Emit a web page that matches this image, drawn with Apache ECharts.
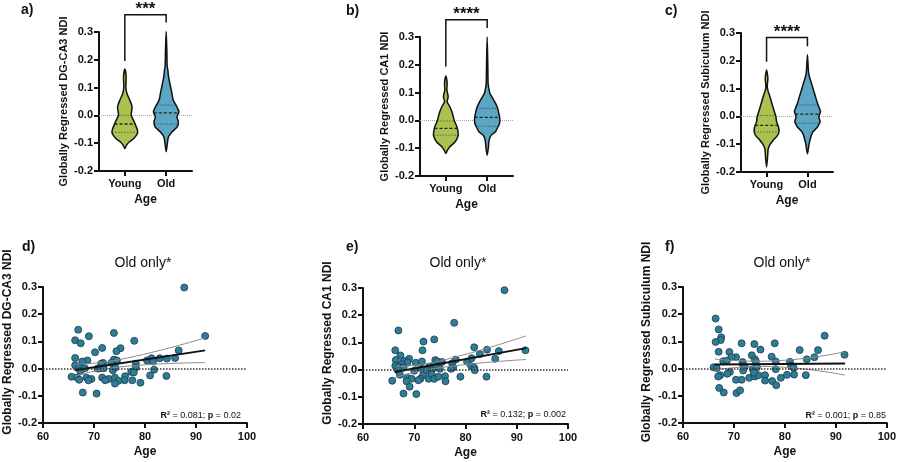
<!DOCTYPE html>
<html>
<head>
<meta charset="utf-8">
<script src="https://cdn.jsdelivr.net/npm/echarts@6/dist/echarts.min.js"></script>
<style>
  html, body { margin: 0; padding: 0; background: #fff; }
  #wrap { position: relative; width: 899px; height: 462px; }
  #wrap div.layer { position: absolute; left: 0; top: 0; width: 899px; height: 462px; }
</style>
</head>
<body>
<div id="wrap"></div>
<script>
// groups on the violin axes
const groups = ['Young', 'Old']
const groupPos = [2.5, 6.5] // positions on a 0..9 axis so the violins sit where they do in the figure

// violin outlines: [NDI value, relative half width]
const youngA = [[0.167, 0], [0.140, 0.10], [0.103, 0.08], [0.080, 0.15], [0.055, 0.38], [0.031, 0.56], [0.001, 0.49], [-0.023, 0.72], [-0.053, 0.97], [-0.065, 0.97], [-0.083, 0.69], [-0.095, 0.36], [-0.107, 0.13], [-0.119, 0]]
const oldA = [[0.302, 0], [0.236, 0.05], [0.176, 0.08], [0.164, 0.13], [0.140, 0.18], [0.116, 0.28], [0.080, 0.44], [0.055, 0.54], [0.031, 0.82], [0.013, 0.98], [-0.005, 0.83], [-0.023, 0.94], [-0.041, 0.85], [-0.059, 0.46], [-0.077, 0.18], [-0.101, 0.09], [-0.131, 0]]
const youngB = [[0.160, 0], [0.134, 0.10], [0.110, 0.08], [0.085, 0.18], [0.067, 0.10], [0.049, 0.31], [0.025, 0.51], [0.001, 0.64], [-0.023, 0.85], [-0.047, 0.95], [-0.059, 0.92], [-0.077, 0.72], [-0.095, 0.31], [-0.107, 0.13], [-0.119, 0]]
const oldB = [[0.300, 0], [0.194, 0.05], [0.134, 0.07], [0.122, 0.10], [0.098, 0.21], [0.085, 0.36], [0.073, 0.51], [0.049, 0.77], [0.025, 0.90], [0.007, 0.97], [-0.011, 0.95], [-0.029, 0.77], [-0.041, 0.64], [-0.053, 0.31], [-0.071, 0.15], [-0.095, 0.10], [-0.125, 0]]
const youngC = [[0.167, 0], [0.137, 0.10], [0.107, 0.05], [0.089, 0.13], [0.071, 0.26], [0.047, 0.41], [0.023, 0.56], [-0.001, 0.72], [-0.019, 0.77], [-0.038, 0.92], [-0.056, 0.95], [-0.068, 0.85], [-0.086, 0.51], [-0.098, 0.31], [-0.116, 0.13], [-0.146, 0.08], [-0.182, 0]]
const oldC = [[0.222, 0], [0.161, 0.08], [0.143, 0.15], [0.119, 0.31], [0.095, 0.46], [0.071, 0.62], [0.047, 0.77], [0.029, 0.92], [0.017, 1.0], [-0.001, 0.87], [-0.019, 0.97], [-0.038, 0.77], [-0.056, 0.41], [-0.074, 0.26], [-0.098, 0.13], [-0.134, 0]]

// Q1, median, Q3
const quartA = [[-0.061, -0.031, 0.000], [-0.031, 0.009, 0.037]]
const quartB = [[-0.053, -0.029, -0.002], [-0.021, 0.011, 0.043]]
const quartC = [[-0.056, -0.032, 0.003], [-0.025, 0.008, 0.041]]

// significance brackets: young leg end, top, old leg end
const bracketA = [0.196, 0.3625, 0.334]
const bracketB = [0.194, 0.3625, 0.3325]
const bracketC = [0.197, 0.284, 0.252]
const starsA = '***'
const starsB = '****'
const starsC = '****'

// old participants: age and regressed NDI
const ageD = [87.7, 66.9, 73.9, 69.0, 91.8, 66.3, 67.4, 77.9, 71.6, 75.2, 74.4, 70.2, 86.6, 66.3, 68.7, 67.7, 71.8, 73.9, 74.5, 80.4, 81.3, 82.9, 84.3, 85.9, 78.2, 81.6, 73.4, 66.3, 67.1, 71.4, 70.7, 71.1, 71.9, 73.7, 74.2, 78.2, 81.8, 65.6, 66.7, 67.1, 68.5, 69.5, 71.6, 72.9, 72.2, 74.1, 76.1, 77.3, 77.8, 76.0, 74.8, 74.1, 77.5, 79.1, 81.0, 84.2, 67.8, 70.5, 68.9, 67.3, 68.2]
const ndiD = [0.298, 0.143, 0.131, 0.119, 0.120, 0.104, 0.093, 0.102, 0.076, 0.075, 0.064, 0.060, 0.067, 0.039, 0.030, 0.026, 0.021, 0.033, 0.030, 0.030, 0.038, 0.038, 0.037, 0.039, 0.018, 0.026, 0.021, 0.012, 0.004, 0.018, 0.000, 0.001, 0.001, -0.006, 0.004, 0.004, -0.004, -0.030, -0.033, -0.041, -0.033, -0.038, -0.033, -0.038, -0.043, -0.033, -0.028, -0.012, -0.014, -0.043, -0.045, -0.055, -0.043, -0.052, -0.025, -0.027, -0.088, -0.092, -0.043, -0.009, 0.001]
const ageE = [87.6, 77.8, 66.9, 71.8, 73.9, 66.3, 71.6, 81.7, 84.2, 86.5, 91.7, 67.3, 66.4, 68.0, 69.0, 68.7, 67.6, 70.3, 71.5, 74.1, 74.5, 75.4, 78.1, 80.3, 81.2, 82.8, 85.8, 77.4, 66.3, 66.9, 67.9, 72.9, 73.9, 74.3, 77.6, 81.1, 81.7, 66.8, 70.0, 71.4, 72.4, 73.4, 75.0, 77.2, 67.2, 65.7, 68.6, 69.5, 68.5, 69.1, 71.7, 71.2, 70.8, 72.8, 73.4, 73.9, 74.7, 76.0, 76.1, 79.0, 81.8, 84.1, 67.9, 70.4]
const ndiE = [0.292, 0.172, 0.144, 0.103, 0.111, 0.071, 0.071, 0.082, 0.073, 0.068, 0.071, 0.052, 0.035, 0.032, 0.040, 0.026, 0.020, 0.025, 0.030, 0.035, 0.030, 0.028, 0.037, 0.029, 0.042, 0.057, 0.040, 0.023, 0.014, 0.010, 0.008, 0.010, 0.016, 0.008, 0.008, 0.013, 0.007, -0.002, -0.004, 0.003, -0.004, -0.002, 0.003, 0.003, -0.019, -0.041, -0.029, -0.034, -0.043, -0.063, -0.021, -0.034, -0.039, -0.034, -0.017, -0.034, -0.026, -0.024, -0.043, -0.026, -0.002, -0.026, -0.088, -0.090]
const ageF = [66.4, 67.0, 67.5, 67.4, 66.4, 87.8, 71.5, 74.0, 78.0, 75.2, 82.9, 86.5, 91.7, 67.0, 69.1, 70.4, 69.5, 73.5, 77.4, 85.8, 84.3, 67.9, 68.6, 71.7, 74.1, 74.3, 78.2, 81.0, 81.2, 71.8, 72.1, 66.0, 66.6, 73.7, 74.5, 78.2, 81.7, 67.3, 69.2, 70.4, 71.5, 73.0, 74.1, 74.8, 76.1, 76.1, 79.2, 80.4, 81.8, 84.1, 77.5, 78.3, 66.9, 68.7, 71.8, 67.1, 68.0, 70.5, 71.2, 73.9]
const ndiF = [0.184, 0.144, 0.115, 0.105, 0.098, 0.121, 0.093, 0.090, 0.093, 0.070, 0.068, 0.068, 0.051, 0.062, 0.061, 0.042, 0.042, 0.049, 0.044, 0.042, 0.034, 0.027, 0.029, 0.024, 0.034, 0.027, 0.026, 0.025, 0.010, 0.013, 0.007, 0.005, 0.002, -0.002, 0.005, -0.002, 0.003, -0.024, -0.012, -0.041, -0.041, -0.034, -0.029, -0.024, -0.024, -0.044, -0.034, -0.023, -0.022, -0.024, -0.046, -0.061, -0.029, -0.019, -0.007, -0.071, -0.088, -0.090, -0.080, -0.015]

// fitted line and 95% band
const fitD = [[66.2, -0.006], [91.8, 0.067]]
const upperD = [[66.2, 0.016], [75, 0.033], [91.8, 0.113]]
const lowerD = [[66.2, -0.028], [75, 0.006], [91.8, 0.022]]
const fitE = [[66.2, -0.009], [91.8, 0.079]]
const upperE = [[66.2, 0.010], [75, 0.032], [91.8, 0.124]]
const lowerE = [[66.2, -0.030], [75, 0.007], [91.8, 0.037]]
const fitF = [[66.2, 0.015], [91.8, 0.019]]
const upperF = [[66.2, 0.035], [75, 0.027], [91.8, 0.062]]
const lowerF = [[66.2, -0.005], [75, 0.008], [91.8, -0.024]]

const statD = ['0.081', '0.02']
const statE = ['0.132', '0.002']
const statF = ['0.001', '0.85']

const FONT = 'Liberation Sans, Arial, sans-serif'
const HW = 13
const violinColors = ['#a9c250', '#5ba6c5']

const grids = [
  { left: 99, top: 32, width: 93, height: 139 },
  { left: 420, top: 37, width: 93, height: 139 },
  { left: 741, top: 33, width: 92, height: 139 },
  { left: 43, top: 287, width: 204, height: 136 },
  { left: 363, top: 288, width: 205, height: 136 },
  { left: 683, top: 287, width: 205, height: 136 }
]
const yNames = [
  'Globally Regressed DG-CA3 NDI',
  'Globally Regressed CA1 NDI',
  'Globally Regressed Subiculum NDI',
  'Globally Regressed DG-CA3 NDI',
  'Globally Regressed CA1 NDI',
  'Globally Regressed Subiculum NDI'
]
const yGaps = [30, 30, 30, 22, 28, 30]

// every layer covers the whole figure, so the grids keep page coordinates
function layer () {
  const d = document.createElement('div')
  d.className = 'layer'
  document.getElementById('wrap').appendChild(d)
  return echarts.init(d)
}

function pairs (xs, ys) {
  return xs.map((x, i) => [x, ys[i]])
}

function widthAt (prof, v) {
  for (let i = 0; i < prof.length - 1; i++) {
    const a = prof[i]
    const b = prof[i + 1]
    if (v <= a[0] && v >= b[0]) {
      const t = (a[0] - v) / (a[0] - b[0])
      return a[1] + (b[1] - a[1]) * t
    }
  }
  return 0
}

function xAxisFor (i) {
  const ax = {
    type: 'value',
    name: 'Age',
    nameLocation: 'middle',
    nameGap: 23,
    nameTextStyle: { color: '#111', fontWeight: 'bold', fontSize: 12, fontFamily: FONT },
    axisLine: { show: true, onZero: false, lineStyle: { color: '#111', width: 2 } },
    axisTick: { show: true, length: 5, lineStyle: { color: '#111', width: 2 } },
    axisLabel: { color: '#111', fontWeight: 'bold', fontSize: 11, fontFamily: FONT },
    splitLine: { show: false }
  }
  if (i < 3) {
    ax.min = 0
    ax.max = 9
    ax.axisTick.customValues = groupPos
    ax.axisLabel.customValues = groupPos
    ax.axisLabel.margin = 7
    ax.axisLabel.formatter = v => groups[groupPos.indexOf(v)] || ''
  } else {
    ax.min = 60
    ax.max = 100
    ax.interval = 10
  }
  return ax
}

function yAxisFor (i) {
  return {
    type: 'value',
    min: -0.2,
    max: 0.3,
    interval: 0.1,
    name: yNames[i],
    nameLocation: 'middle',
    nameGap: yGaps[i],
    nameTextStyle: i < 3
      ? { color: '#111', fontWeight: 'bold', fontSize: 11 }
      : { color: '#111', fontWeight: 'bold', fontSize: 12, padding: [0, 0, 0, 26] },
    axisLine: { show: true, onZero: false, lineStyle: { color: '#111', width: 2 } },
    axisTick: { show: true, length: 5, lineStyle: { color: '#111', width: 2 } },
    axisLabel: { color: '#111', fontWeight: 'bold', fontSize: 11, fontFamily: FONT, margin: 6, formatter: v => v.toFixed(1) },
    splitLine: { show: false }
  }
}

function zeroLine (color, width) {
  return {
    type: 'line',
    data: [],
    z: 1,
    markLine: {
      silent: true,
      symbol: 'none',
      label: { show: false },
      lineStyle: { color: color, type: 'dotted', width: width },
      data: [{ yAxis: 0 }]
    }
  }
}

function scatterSeries (data) {
  return {
    type: 'scatter',
    symbolSize: 7,
    z: 3,
    itemStyle: { color: '#2e7d98', borderColor: '#1a3b48', borderWidth: 0.8, opacity: 1 },
    data: data
  }
}

function lineSeries (data, color, width, smooth) {
  return {
    type: 'line',
    showSymbol: false,
    symbol: 'none',
    smooth: smooth,
    z: 4,
    lineStyle: { color: color, width: width },
    data: data
  }
}

function violinSeries (profiles, quarts) {
  return {
    type: 'custom',
    z: 3,
    data: groupPos.map(s => [s, 0]),
    renderItem: function (params, api) {
      const k = params.dataIndex
      const prof = profiles[k]
      const pos = api.value(0)
      const cx = api.coord([pos, 0])[0]
      const right = prof.map(p => [cx + p[1] * HW, api.coord([pos, p[0]])[1]])
      const left = prof.slice(1, -1).map(p => [cx - p[1] * HW, api.coord([pos, p[0]])[1]]).reverse()
      const children = [{
        type: 'polygon',
        shape: { points: right.concat(left), smooth: 0.25 },
        style: { fill: violinColors[k], stroke: '#111', lineWidth: 1.5 }
      }]
      quarts[k].forEach(function (q, j) {
        const w = widthAt(prof, q) * HW
        const y = api.coord([pos, q])[1]
        children.push({
          type: 'line',
          shape: { x1: cx - w, y1: y, x2: cx + w, y2: y },
          style: {
            stroke: '#222',
            lineWidth: j === 1 ? 1.3 : 0.8,
            lineDash: j === 1 ? [3, 2] : [1.5, 1.5],
            opacity: j === 1 ? 1 : 0.7
          }
        })
      })
      return { type: 'group', children: children }
    }
  }
}

function bracketSeries (br, stars) {
  return {
    type: 'custom',
    clip: false,
    z: 4,
    data: [[groupPos[0], 0]],
    renderItem: function (params, api) {
      const x1 = api.coord([groupPos[0], 0])[0]
      const x2 = api.coord([groupPos[1], 0])[0]
      const y1 = api.coord([groupPos[0], br[0]])[1]
      const yt = api.coord([groupPos[0], br[1]])[1]
      const y2 = api.coord([groupPos[0], br[2]])[1]
      return {
        type: 'group',
        children: [
          { type: 'polyline', shape: { points: [[x1, y1], [x1, yt], [x2, yt], [x2, y2]] }, style: { stroke: '#111', lineWidth: 1.5, fill: null } },
          { type: 'text', style: { x: (x1 + x2) / 2, y: yt + 3, text: stars, align: 'center', verticalAlign: 'bottom', font: 'bold 17px ' + FONT, fill: '#111' } }
        ]
      }
    }
  }
}

// axes, zero lines and scatter panels
const scatterData = [null, null, null, pairs(ageD, ndiD), pairs(ageE, ndiE), pairs(ageF, ndiF)]
const fits = [null, null, null, [fitD, upperD, lowerD], [fitE, upperE, lowerE], [fitF, upperF, lowerF]]

grids.forEach(function (g, i) {
  const series = [zeroLine(i < 3 ? '#aaa' : '#333', i < 3 ? 1 : 1.5)]
  if (i >= 3) {
    series.push(scatterSeries(scatterData[i]))
    series.push(lineSeries(fits[i][1], '#8c8c8c', 1, true))
    series.push(lineSeries(fits[i][2], '#8c8c8c', 1, true))
    series.push(lineSeries(fits[i][0], '#111', 2, false))
  }
  layer().setOption({
    animation: false,
    backgroundColor: 'transparent',
    grid: g,
    xAxis: xAxisFor(i),
    yAxis: yAxisFor(i),
    series: series
  })
})

// violins and brackets on matching hidden axes
const violinPanels = [
  [[youngA, oldA], quartA, bracketA, starsA],
  [[youngB, oldB], quartB, bracketB, starsB],
  [[youngC, oldC], quartC, bracketC, starsC]
]
violinPanels.forEach(function (p, i) {
  layer().setOption({
    animation: false,
    backgroundColor: 'transparent',
    grid: grids[i],
    xAxis: { type: 'value', min: 0, max: 9, show: false },
    yAxis: { type: 'value', min: -0.2, max: 0.3, show: false },
    series: [violinSeries(p[0], p[1]), bracketSeries(p[2], p[3])]
  })
})

function txt (x, y, text, size, weight, align) {
  return {
    type: 'text',
    x: x,
    y: y,
    style: { text: text, font: weight + ' ' + size + 'px ' + FONT, fill: '#111', align: align || 'left', verticalAlign: 'middle' }
  }
}

layer().setOption({
  backgroundColor: 'transparent',
  graphic: [
    txt(21, 10, 'a)', 14, 'bold'),
    txt(346, 11, 'b)', 14, 'bold'),
    txt(665, 11, 'c)', 14, 'bold'),
    txt(22, 247, 'd)', 14, 'bold'),
    txt(346, 247, 'e)', 14, 'bold'),
    txt(665, 247, 'f)', 14, 'bold'),
    txt(143, 263, 'Old only*', 14, 'normal', 'center'),
    txt(458, 263, 'Old only*', 14, 'normal', 'center'),
    txt(782, 263, 'Old only*', 14, 'normal', 'center')
  ]
})

function statText (x, y, s) {
  return {
    type: 'text',
    x: x,
    y: y,
    style: {
      text: '{b|R²} = ' + s[0] + '; {b|p} = ' + s[1],
      font: '9px ' + FONT,
      fill: '#111',
      align: 'right',
      verticalAlign: 'middle',
      rich: { b: { fontWeight: 'bold', fontSize: 9, fontFamily: FONT } }
    }
  }
}

layer().setOption({
  backgroundColor: 'transparent',
  graphic: [statText(241, 416, statD), statText(566, 415, statE), statText(886, 416, statF)]
})
</script>
</body>
</html>
